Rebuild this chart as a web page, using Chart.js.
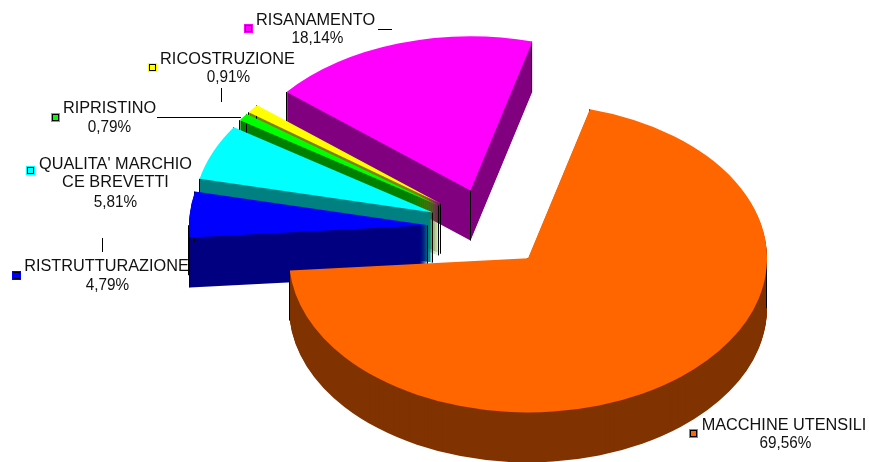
<!DOCTYPE html>
<html>
<head>
<meta charset="utf-8">
<style>html,body{margin:0;padding:0;background:#fff}canvas{display:block}</style>
<script src="https://cdn.jsdelivr.net/npm/chart.js@4"></script>
</head>
<body>
<canvas id="c" width="869" height="462"></canvas>
<script>
const categories = ['MACCHINE UTENSILI','RISTRUTTURAZIONE',"QUALITA' MARCHIO CE BREVETTI",'RIPRISTINO','RICOSTRUZIONE','RISANAMENTO'];
const values = [69.56,4.79,5.81,0.79,0.91,18.14];
const valueLabels = ['69,56%','4,79%','5,81%','0,79%','0,91%','18,14%'];
const topColors = ['#ff6600','#0000ff','#00ffff','#00ff00','#ffff00','#ff00ff'];
const sideColors = ['#803300','#000080','#008080','#008000','#808000','#800080'];
const paintOrder = [5,4,3,2,1,0];

const tilt = 0.645, depth = 50, explode = 61, pieRadius = 239, startRotation = 15.0;
const labelLayout = [
  {cx:784, vx:785.5, lines:['MACCHINE UTENSILI'], ys:[430], vy:448, mark:[693,433]},
  {cx:106.5, vx:107.5, lines:['RISTRUTTURAZIONE'], ys:[271], vy:290, mark:[16,275]},
  {cx:115.5, vx:115.5, lines:["QUALITA' MARCHIO",'CE BREVETTI'], ys:[169,187], vy:207, mark:[30,170]},
  {cx:109.5, vx:109.5, lines:['RIPRISTINO'], ys:[113], vy:132, mark:[55,117]},
  {cx:227.5, vx:228.5, lines:['RICOSTRUZIONE'], ys:[64], vy:82, mark:[152,67]},
  {cx:315.5, vx:317.5, lines:['RISANAMENTO'], ys:[25], vy:43, mark:[248,28]}
];
const leaders = [[378,29.5,392,29.5],[221.5,88,221.5,102],[157,117.5,241,117.5],[102.5,238,102.5,252]];

const pie3d = {
  id:'pie3d',
  beforeDatasetDraw(chart){
    const ctx = chart.ctx, arcs = chart.getDatasetMeta(0).data;
    paintOrder.forEach(i=>{
      const a = arcs[i], orig = a.options;
      const mid = (a.startAngle+a.endAngle)/2;
      const ex = a.x + Math.cos(mid)*explode;
      const eyLocal = Math.sin(mid)*explode;
      const mkOpts = col => ({backgroundColor:col,borderColor:col,borderWidth:0,borderAlign:'center',borderJoinStyle:'round',borderRadius:0,borderDash:[],borderDashOffset:0,offset:0,spacing:0,circular:true});
      const place = d => {
        ctx.save();
        ctx.translate(ex, a.y + eyLocal*tilt + d);
        ctx.scale(1,tilt);
        ctx.translate(-a.x,-a.y);
      };
      a.options = mkOpts(sideColors[i]);
      for(let d=depth;d>=1;d--){ place(d); a.draw(ctx); ctx.restore(); }
      // black vertical edges of the extruded block
      const sy = a.y + eyLocal*tilt;
      const R = a.outerRadius;
      const edges = [[ex,sy]];
      [a.startAngle,a.endAngle].forEach(t=>edges.push([ex+Math.cos(t)*R, sy+Math.sin(t)*R*tilt]));
      const TAU = Math.PI*2;
      [0,Math.PI].forEach(t=>{
        for(const k of [-1,0,1,2]){ const v=t+k*TAU; if(v>a.startAngle&&v<a.endAngle) edges.push([ex+Math.cos(v)*R, sy+Math.sin(v)*R*tilt]); }
      });
      ctx.save();
      ctx.strokeStyle='#000'; ctx.lineWidth=1;
      edges.forEach(([x,y])=>{
        ctx.beginPath();
        ctx.moveTo(Math.round(x)-0.5,y); ctx.lineTo(Math.round(x)-0.5,y+depth); ctx.stroke();
      });
      ctx.restore();
      a.options = mkOpts(topColors[i]);
      place(0); a.draw(ctx); ctx.restore();
      a.options = orig;
    });
    return false;
  },
  afterDraw(chart){
    const ctx = chart.ctx;
    ctx.save();
    ctx.strokeStyle='#000'; ctx.lineWidth=1;
    leaders.forEach(l=>{ctx.beginPath();ctx.moveTo(l[0],l[1]);ctx.lineTo(l[2],l[3]);ctx.stroke();});
    ctx.textAlign='center'; ctx.textBaseline='alphabetic';
    ctx.font='16.3px "Liberation Sans", Arial, sans-serif';
    labelLayout.forEach((l,i)=>{
      ctx.fillStyle='#111';
      l.lines.forEach((t,j)=>ctx.fillText(t,l.cx,l.ys[j]));
      ctx.fillText(valueLabels[i],l.vx,l.vy,ctx.measureText(valueLabels[i]).width*0.94);
      const [mx,my]=l.mark;
      ctx.fillStyle=topColors[i]; ctx.fillRect(mx-4,my-4,9,9);
      ctx.strokeStyle='#000'; ctx.strokeRect(mx-2.5,my-2.5,6,6);
    });
    ctx.restore();
  }
};

new Chart(document.getElementById('c'),{
  type:'pie',
  data:{labels:categories,datasets:[{data:values,backgroundColor:topColors,borderWidth:0,clip:false}]},
  options:{
    responsive:false,animation:false,
    rotation:startRotation,radius:pieRadius,
    layout:{padding:{left:109,bottom:6}},
    events:[],
    plugins:{legend:{display:false},tooltip:{enabled:false}}
  },
  plugins:[pie3d]
});
</script>
</body>
</html>
